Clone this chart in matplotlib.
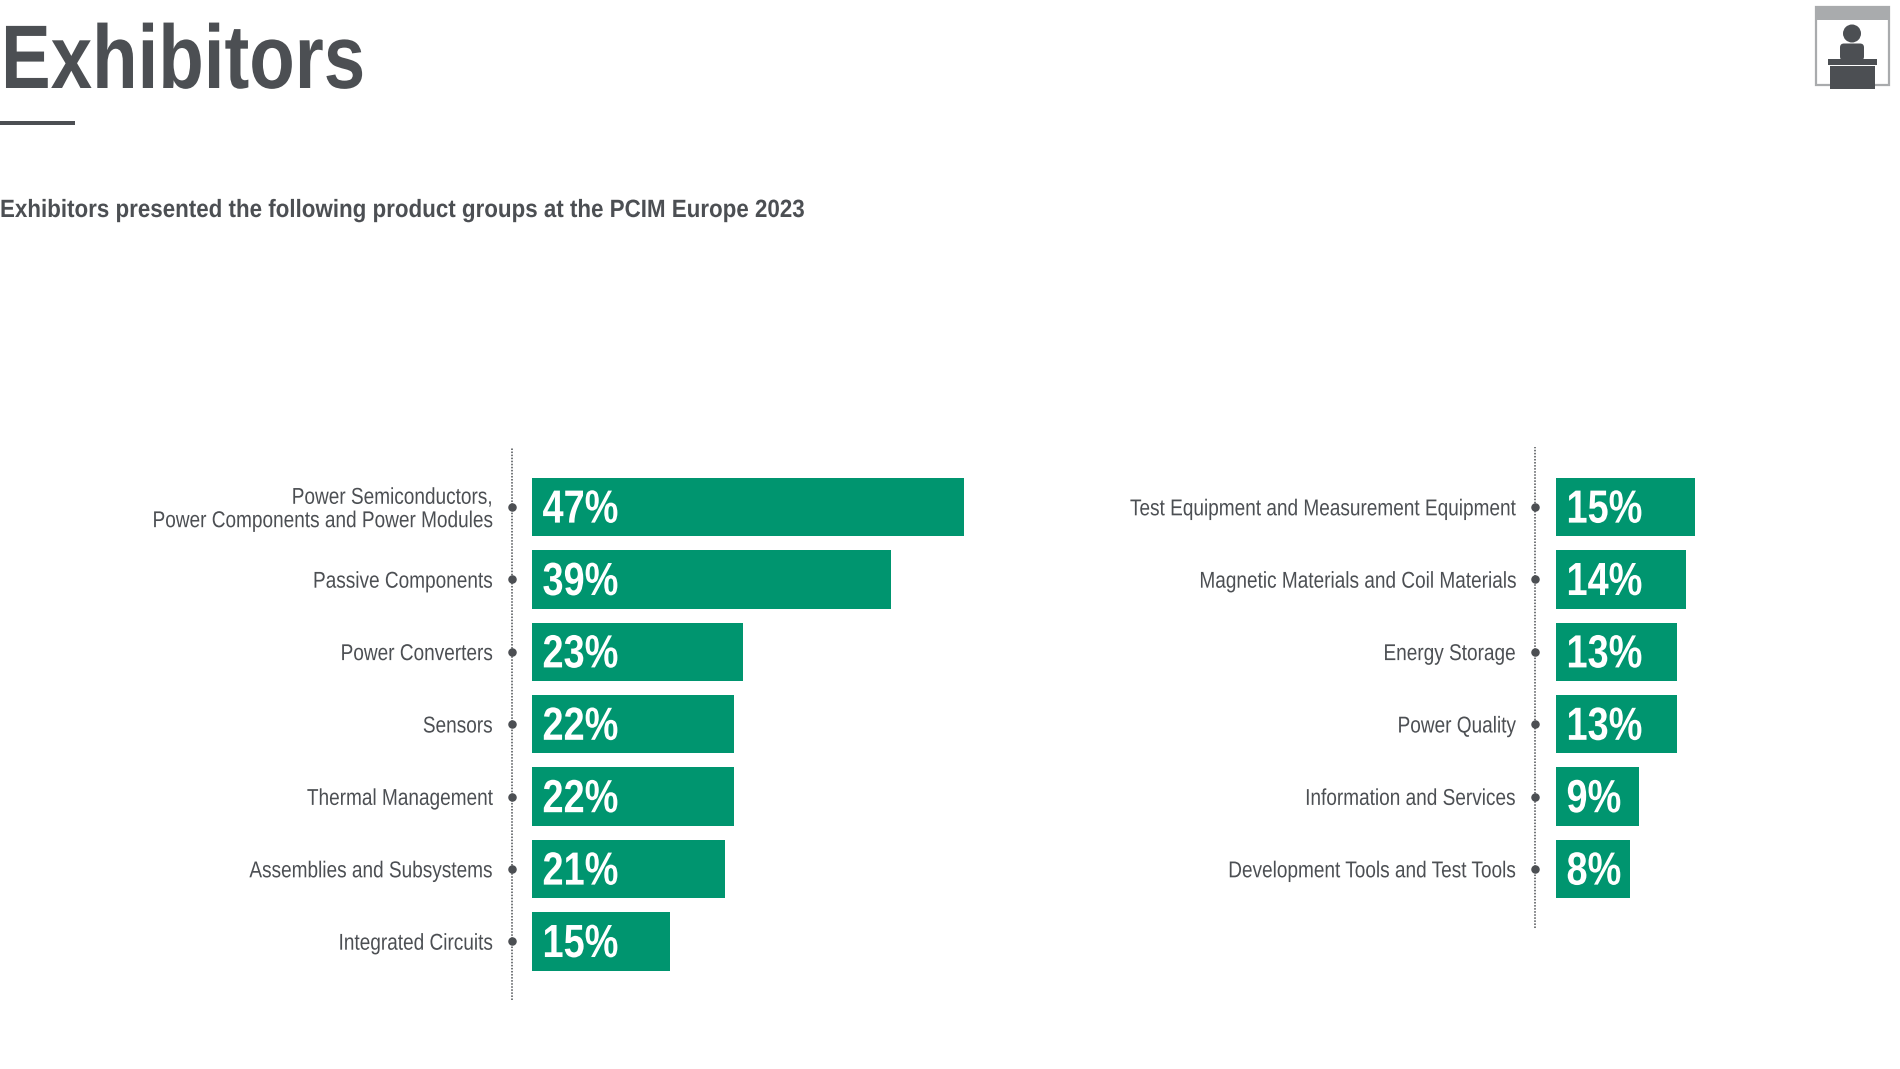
import matplotlib
matplotlib.use("Agg")
import matplotlib.pyplot as plt
from matplotlib.patches import Rectangle, Circle, FancyBboxPatch
from matplotlib.patheffects import AbstractPathEffect
from matplotlib.transforms import Affine2D

left_labels = ["Power Semiconductors,\nPower Components and Power Modules", "Passive Components",
               "Power Converters", "Sensors", "Thermal Management",
               "Assemblies and Subsystems", "Integrated Circuits"]
left_values = [47, 39, 23, 22, 22, 21, 15]

right_labels = ["Test Equipment and Measurement Equipment", "Magnetic Materials and Coil Materials",
                "Energy Storage", "Power Quality", "Information and Services",
                "Development Tools and Test Tools"]
right_values = [15, 14, 13, 13, 9, 8]

W, H = 1900, 1069
GREEN = "#00956f"
DARK = "#4c4f53"
plt.rcParams["font.family"] = ["Liberation Sans", "DejaVu Sans"]


class Narrow(AbstractPathEffect):
    # no condensed font is installed, so squeeze the glyphs sideways
    def __init__(self, k, right=False, dy=0):
        super().__init__()
        self.k = k
        self.right = right
        self.dy = dy

    def draw_path(self, renderer, gc, tpath, affine, rgbFace=None):
        x = tpath.get_extents().x1 if self.right else 0
        squeeze = Affine2D().translate(-x, 0).scale(self.k, 1).translate(x, 0)
        renderer.draw_path(gc, tpath, squeeze + affine + Affine2D().translate(0, self.dy), rgbFace)


def pixel_axes(fig, x0, y0, x1, y1):
    # y measured from the top of the picture
    return fig.add_axes([x0 / W, 1 - y1 / H, (x1 - x0) / W, (y1 - y0) / H])


def bar_panel(fig, x_axis, y_bottom, x_right, labels, values, px, gap):
    ax = pixel_axes(fig, x_axis, 447, x_right, y_bottom)
    ax.set_xlim(-gap / px, (x_right - x_axis - gap) / px)
    ax.set_ylim((y_bottom - 507) / 72.4, -(507 - 447) / 72.4)
    rows = list(range(len(values)))
    ax.barh(rows, values, height=0.805, color=GREEN)
    ax.scatter([-gap / px] * len(rows), rows, s=26, color=DARK, clip_on=False, zorder=5)
    for r, v in zip(rows, values):
        ax.text(11 / px, r + 0.05, f"{v}%", color="white", fontsize=33.5, fontweight="bold",
                va="center", ha="left", path_effects=[Narrow(0.815)])
    ax.set_yticks(rows)
    ax.set_yticklabels(labels, fontsize=16.5, color=DARK, ha="right", linespacing=1.02)
    for t in ax.get_yticklabels():
        t.set_path_effects([Narrow(0.83, right=True, dy=0.7)])
    ax.tick_params(axis="y", length=0, pad=13.8)
    ax.set_xticks([])
    for s in ["top", "right", "bottom"]:
        ax.spines[s].set_visible(False)
    ax.spines["left"].set_linestyle((0, (1, 1)))
    ax.spines["left"].set_capstyle("butt")
    ax.spines["left"].set_linewidth(1.1)
    ax.spines["left"].set_color(DARK)
    ax.patch.set_alpha(0)
    return ax


fig = plt.figure(figsize=(W / 100, H / 100), dpi=100, facecolor="white")

bar_panel(fig, 512, 1000, 1000, left_labels, left_values, 9.21, 19.5)
bar_panel(fig, 1535, 928, 1800, right_labels, right_values, 9.32, 20.5)

fig.text(1 / W, 1 - 88 / H, "Exhibitors", fontsize=65, fontweight="bold", color=DARK, va="baseline",
         path_effects=[Narrow(0.825)])
fig.text(0, 1 - 217 / H, "Exhibitors presented the following product groups at the PCIM Europe 2023",
         fontsize=18, fontweight="bold", color=DARK, va="baseline", path_effects=[Narrow(0.894)])

# overlay in pixel coordinates for rule and booth icon
deco = fig.add_axes([0, 0, 1, 1])
deco.set_xlim(0, W)
deco.set_ylim(H, 0)
deco.axis("off")
deco.patch.set_alpha(0)
deco.add_patch(Rectangle((0, 121), 75, 3.5, color=DARK, lw=0))
deco.add_patch(Rectangle((1815.5, 7), 73.5, 78, fc="white", ec="#a9abad", lw=1.6))
deco.add_patch(Rectangle((1815.5, 7), 73.5, 13, color="#a9abad", lw=0))
deco.add_patch(Circle((1852, 33.5), 9, color=DARK, lw=0))
deco.add_patch(FancyBboxPatch((1840, 43.5), 24, 17, boxstyle="round,pad=0,rounding_size=4", color=DARK, lw=0))
deco.add_patch(Rectangle((1827.5, 59), 49, 6, color=DARK, lw=0))
deco.add_patch(Rectangle((1829.5, 66), 45, 23, color=DARK, lw=0))

fig.savefig("out.png", dpi=100)
